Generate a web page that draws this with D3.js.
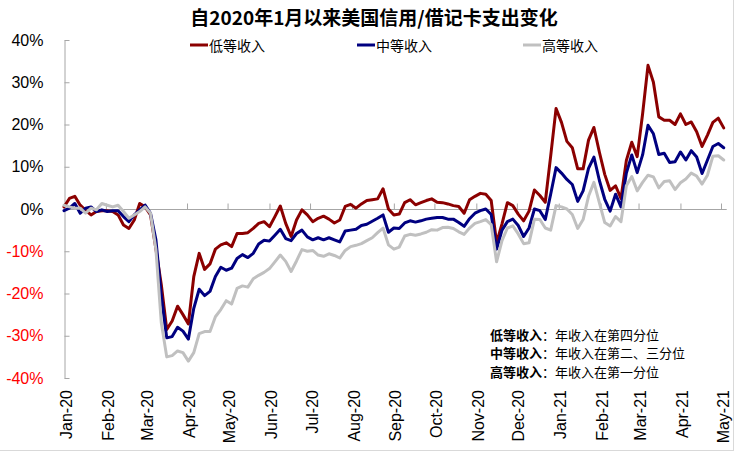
<!DOCTYPE html>
<html><head><meta charset="utf-8">
<script src="https://cdn.jsdelivr.net/npm/d3@7"></script>
<style>body{margin:0;background:#fff}svg{display:block}</style>
</head><body>
<svg id="c" width="734" height="451"></svg>
<script>
const title = "自2020年1月以来美国信用/借记卡支出变化";
const seriesNames = ["低等收入", "中等收入", "高等收入"];
const seriesColors = ["#8b0000", "#000080", "#c0c0c0"];
const startDate = "2020-01-01";
const stepDays = 4;

const lowIncome = [0.5,2.5,3.0,0.9,-0.3,-1.4,-0.6,-0.4,-0.4,-0.6,-1.4,-3.8,-4.6,-2.6,1.3,0.5,-1.4,-9.5,-18,-28.5,
-26.5,-23,-25,-27.2,-16,-10.5,-14.3,-13,-9.5,-8.5,-8.0,-8.9,-5.8,-5.8,-5.6,-4.6,-3.4,-3.0,-4.2,-1.8,
0.7,-3.4,-6.5,-2.6,-0.2,-1.4,-3.0,-2.2,-1.7,-2.4,-3.3,-2.6,0.6,1.1,0.2,1.2,2.0,2.2,2.4,4.8,
0.0,-1.4,-1.2,1.5,2.2,1.0,1.5,2.0,2.4,1.6,1.5,1.2,0.8,0.6,-1.0,2.2,3.0,3.7,3.5,2.0,
-8.0,-3.5,1.5,0.8,-1.2,-2.8,-0.5,4.5,3.2,1.6,12.5,23.8,20.5,16,14.5,9.5,9.5,16.3,19.3,13.5,
8.2,4.4,5.5,2.5,11.5,15.8,12.4,22.5,34,30,21.8,21,21,20,22.5,20,20.6,18.3,14.8,17.5,
20.5,21.5,19.2];

const midIncome = [-0.4,0.2,1.3,-1.0,0.2,0.5,-0.6,-0.2,-0.6,-0.4,-0.4,-1.8,-3.0,-1.4,-0.2,0.9,-1.0,-7.3,-20.6,-30.5,
-30.2,-28,-28.9,-30.8,-23.5,-19,-20.5,-19.5,-16,-13.8,-14.5,-14,-11.7,-10.8,-11.5,-10.5,-8.3,-7.4,-7.6,-6.2,
-4.8,-7.0,-7.5,-5.8,-5.0,-6.6,-7.3,-6.8,-7.3,-6.8,-7.3,-7.8,-5.2,-5.0,-4.8,-3.9,-3.6,-2.9,-2.2,-1.4,
-5.5,-4.5,-4.6,-3.3,-2.8,-3.1,-2.8,-2.4,-2.2,-2.0,-2.0,-2.4,-2.4,-3.2,-4.1,-2.3,-1.0,-0.4,0,-1.3,
-9.5,-5.0,-3.0,-2.4,-3.9,-6.5,-4.5,0,-0.4,-2.5,3.5,9.8,8.5,7.0,5.8,1.8,4.3,9.6,12.3,6.8,
2.3,-0.5,3.5,0.5,8.5,12.8,8.6,12.8,19.8,17.8,12.9,13.2,11,11.2,13.5,11.6,13.8,12.3,8.4,11.6,
14.8,15.5,14.5];

const highIncome = [0.9,0.5,0.2,0.2,-1.0,0.2,-0.2,1.3,0.9,0.5,0.9,-0.6,-2.2,-1.4,-0.6,0.5,-1.0,-9.6,-27,-35,
-34.7,-33.6,-34,-36,-34,-29.5,-29,-29,-25.5,-23.8,-21.7,-22.5,-18.8,-18.2,-18.5,-16.5,-15.7,-15,-14.1,-12.5,
-10.9,-12.4,-14.8,-12.3,-9.6,-10,-9.8,-10.9,-11.2,-10.6,-11,-11.6,-9.8,-8.9,-8.6,-8.2,-7.5,-6.8,-5.6,-4.5,
-8.5,-9.5,-9.0,-6.4,-6.0,-6.2,-5.9,-5.5,-4.9,-5.0,-4.4,-4.3,-4.6,-5.4,-6.0,-4.5,-3.4,-3.0,-2.5,-3.7,
-12.5,-7.5,-4.5,-4.0,-5.9,-8.2,-8,-2.4,-2.5,-4.5,-5,0.8,0.5,0,-1.3,-4.6,-2.5,3.0,6.3,1.5,
-3.2,-4.0,-1.8,-3.0,5.5,7.7,4.3,6.3,8.0,7.6,5.0,6.5,6.7,4.6,6.2,7.1,8.5,7.8,5.9,8.0,
12.5,12.6,11.6];

const yTicks = [-40, -30, -20, -10, 0, 10, 20, 30, 40];
const monthLabels = ["Jan-20","Feb-20","Mar-20","Apr-20","May-20","Jun-20","Jul-20","Aug-20","Sep-20",
  "Oct-20","Nov-20","Dec-20","Jan-21","Feb-21","Mar-21","Apr-21","May-21"];
const noteLabels = ["低等收入", "中等收入", "高等收入"];
const noteTexts = ["年收入在第四分位", "年收入在第二、三分位", "年收入在第一分位"];

const svg = d3.select("#c");
const parse = d3.timeParse("%Y-%m-%d");
const t0 = parse(startDate);
const dates = lowIncome.map((_, i) => d3.timeDay.offset(t0, i * stepDays));
const monthDates = monthLabels.map((_, i) => d3.timeMonth.offset(t0, i));

const x = d3.scaleTime().domain([t0, monthDates[monthDates.length - 1]]).range([64, 721]);
const y = d3.scaleLinear().domain([-40, 40]).range([378, 40]);
const axisColor = "#a6a6a6";
const fontLatin = "'Liberation Sans', Arial, sans-serif";
const fontCJK = "'Noto Sans CJK SC', sans-serif";

// outer border (right/bottom)
svg.append("line").attr("x1", 733.5).attr("x2", 733.5).attr("y1", 0).attr("y2", 451).attr("stroke", "#d9d9d9");
svg.append("line").attr("x1", 0).attr("x2", 734).attr("y1", 450.5).attr("y2", 450.5).attr("stroke", "#d9d9d9");

// title
svg.append("text").attr("x", 374).attr("y", 25).attr("text-anchor", "middle")
  .attr("font-family", fontCJK).attr("font-size", 19).attr("font-weight", "bold").attr("fill", "#000")
  .text(title);

// y axis
const yAxis = d3.axisLeft(y).tickValues(yTicks).tickSizeInner(-5).tickSizeOuter(0).tickPadding(21)
  .tickFormat(d => d + "%");
const gy = svg.append("g").attr("transform", "translate(64.5,0)").call(yAxis);
gy.select(".domain").attr("stroke", axisColor);
gy.selectAll(".tick line").attr("stroke", axisColor);
gy.selectAll(".tick text").attr("font-family", fontLatin).attr("font-size", 16)
  .attr("fill", d => d < 0 ? "#ff0000" : "#000");

// x axis at zero
const xAxis = d3.axisBottom(x).tickValues(monthDates).tickSizeInner(-6).tickSizeOuter(0).tickFormat("");
const gx = svg.append("g").attr("transform", `translate(0,${y(0) + 0.5})`).call(xAxis);
gx.select(".domain").remove();
gx.selectAll(".tick line").attr("stroke", axisColor);
svg.append("line").attr("x1", x(t0)).attr("x2", x(dates[dates.length - 1]) + 3)
  .attr("y1", y(0) + 0.5).attr("y2", y(0) + 0.5).attr("stroke", axisColor);

// x labels rotated
svg.append("g").selectAll("text").data(monthDates).join("text")
  .attr("transform", (d, i) => `translate(${x(d) + 2},390) rotate(-90)`)
  .attr("text-anchor", "end").attr("dy", "0.35em")
  .attr("font-family", fontLatin).attr("font-size", 16).attr("fill", "#000")
  .text((d, i) => monthLabels[i]);

// lines
const allSeries = [lowIncome, midIncome, highIncome];
const line = d3.line().x((d, i) => x(dates[i])).y(d => y(d));
allSeries.forEach((s, k) => {
  svg.append("path").datum(s).attr("d", line).attr("fill", "none")
    .attr("stroke", seriesColors[k]).attr("stroke-width", 3)
    .attr("stroke-linejoin", "round").attr("stroke-linecap", "round");
});

// legend
const legendX = [190, 357, 523];
seriesNames.forEach((n, k) => {
  svg.append("line").attr("x1", legendX[k]).attr("x2", legendX[k] + 18).attr("y1", 45).attr("y2", 45)
    .attr("stroke", seriesColors[k]).attr("stroke-width", 3);
  svg.append("text").attr("x", legendX[k] + 19).attr("y", 50.5)
    .attr("font-family", fontCJK).attr("font-size", 14).attr("fill", "#000").text(n);
});

// notes
noteLabels.forEach((n, k) => {
  const t = svg.append("text").attr("x", 490).attr("y", 340 + k * 18.3)
    .attr("font-family", fontCJK).attr("font-size", 13).attr("fill", "#000");
  t.append("tspan").attr("font-weight", "bold").text(n);
  t.append("tspan").text("：");
  t.append("tspan").text(noteTexts[k]);
});
</script>
</body></html>
